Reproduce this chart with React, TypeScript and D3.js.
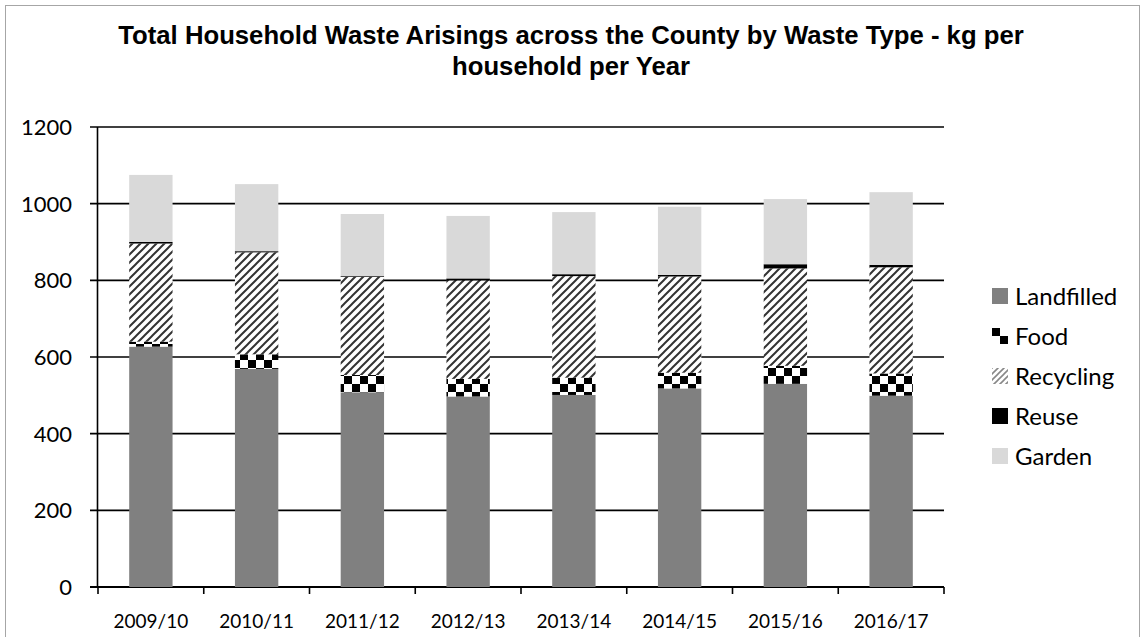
import React from "react";
import * as d3 from "d3";

const years = ["2009/10", "2010/11", "2011/12", "2012/13", "2013/14", "2014/15", "2015/16", "2016/17"];
const landfilled = [627, 569, 508, 497, 501, 518, 530, 499];
const food = [13, 38, 45, 46, 45, 41, 47, 58];
const recycling = [256, 266, 256, 257, 265, 251, 254, 277];
const reuse = [4, 3, 2, 5, 5, 4, 11, 6];
const garden = [175, 175, 162, 163, 162, 178, 170, 190];
const seriesNames = ["Landfilled", "Food", "Recycling", "Reuse", "Garden"];
const yTicks = [0, 200, 400, 600, 800, 1000, 1200];
const titleLines = [
  "Total Household Waste Arisings across the County by Waste Type - kg per",
  "household per Year",
];

const fills: Record<string, string> = {
  Landfilled: "#808080",
  Food: "url(#checker)",
  Recycling: "url(#hatch)",
  Reuse: "#000000",
  Garden: "#d9d9d9",
};
const legendFills: Record<string, string> = {
  ...fills,
  Food: "url(#checkerLegend)",
  Recycling: "url(#hatchLight)",
};

export default function App() {
  const W = 1145;
  const H = 637;
  const x0 = 98;
  const x1 = 944;
  const yTop = 127;
  const yBot = 587;

  const table = years.map((yr, i) => ({
    year: yr,
    Landfilled: landfilled[i],
    Food: food[i],
    Recycling: recycling[i],
    Reuse: reuse[i],
    Garden: garden[i],
  }));
  const stacked = d3.stack<any>().keys(seriesNames)(table);

  const x = d3.scaleBand().domain(years).range([x0, x1]).paddingInner(0.59).paddingOuter(0.295);
  const xb = d3.scaleBand().domain(years).range([x0, x1]);
  const y = d3.scaleLinear().domain([0, 1200]).range([yBot, yTop]);

  const font = "Lato, 'Liberation Sans', sans-serif";

  return (
    <svg width={W} height={H} style={{ position: "absolute", left: 0, top: 0, background: "#fff" }}>
      <defs>
        <pattern id="checker" patternUnits="userSpaceOnUse" width={16} height={16}>
          <rect width={16} height={16} fill="#fff" />
          <rect x={0} y={0} width={8} height={8} fill="#000" />
          <rect x={8} y={8} width={8} height={8} fill="#000" />
        </pattern>
        <pattern id="checkerLegend" patternUnits="objectBoundingBox" patternContentUnits="objectBoundingBox" width={1} height={1}>
          <rect width={1} height={1} fill="#fff" />
          <rect x={0} y={0} width={0.5} height={0.5} fill="#000" />
          <rect x={0.5} y={0.5} width={0.5} height={0.5} fill="#000" />
        </pattern>
        <pattern id="hatch" patternUnits="userSpaceOnUse" width={8} height={8}>
          <rect width={8} height={8} fill="#fff" />
          <path d="M-2,2 L2,-2 M0,8 L8,0 M6,10 L10,6" stroke="#333" strokeWidth={2} />
        </pattern>
        <pattern id="hatchLight" patternUnits="userSpaceOnUse" width={6} height={6}>
          <rect width={6} height={6} fill="#fff" />
          <path d="M-2,2 L2,-2 M0,6 L6,0 M4,8 L8,4" stroke="#888" strokeWidth={1.6} />
        </pattern>
      </defs>

      <rect x={5.5} y={5.5} width={1134} height={640} fill="#fff" stroke="#a6a6a6" strokeWidth={1} />

      {titleLines.map((t, i) => (
        <text
          key={i}
          x={571}
          y={44 + i * 31}
          textAnchor="middle"
          fontFamily="'Liberation Sans', Arial, sans-serif"
          fontWeight="bold"
          fontSize={25.7}
          fill="#000"
        >
          {t}
        </text>
      ))}

      {yTicks.map((t) => (
        <g key={t}>
          <line x1={90} x2={x1} y1={y(t)} y2={y(t)} stroke="#000" strokeWidth={t === 0 ? 2 : 1.6} />
          <text x={72} y={y(t)} dy="0.36em" textAnchor="end" fontFamily={font} fontSize={22} fill="#000">
            {t}
          </text>
        </g>
      ))}

      <line x1={x0 - 0.5} x2={x0 - 0.5} y1={yTop} y2={yBot} stroke="#000" strokeWidth={1.6} />

      {years.map((yr) => (
        <line key={"t" + yr} x1={(xb(yr) as number)} x2={(xb(yr) as number)} y1={yBot} y2={yBot + 7} stroke="#000" strokeWidth={1.6} />
      ))}
      <line x1={x1} x2={x1} y1={yBot} y2={yBot + 7} stroke="#000" strokeWidth={1.6} />

      {stacked.map((s) => (
        <g key={s.key}>
          {s.map((d: any, i: number) => (
            <rect
              key={i}
              x={x(years[i])}
              width={x.bandwidth()}
              y={y(d[1])}
              height={y(d[0]) - y(d[1])}
              fill={fills[s.key]}
            />
          ))}
        </g>
      ))}

      {years.map((yr) => (
        <text
          key={"l" + yr}
          x={(xb(yr) as number) + xb.bandwidth() / 2}
          y={628}
          textAnchor="middle"
          fontFamily={font}
          fontSize={19}
          fill="#000"
        >
          {yr}
        </text>
      ))}

      {seriesNames.map((n, i) => (
        <g key={n} transform={`translate(992, ${288 + i * 40})`}>
          <rect width={16} height={16} fill={legendFills[n]} />
          <text x={23} y={8} dy="0.36em" fontFamily={font} fontSize={24} fill="#000">
            {n}
          </text>
        </g>
      ))}
    </svg>
  );
}
